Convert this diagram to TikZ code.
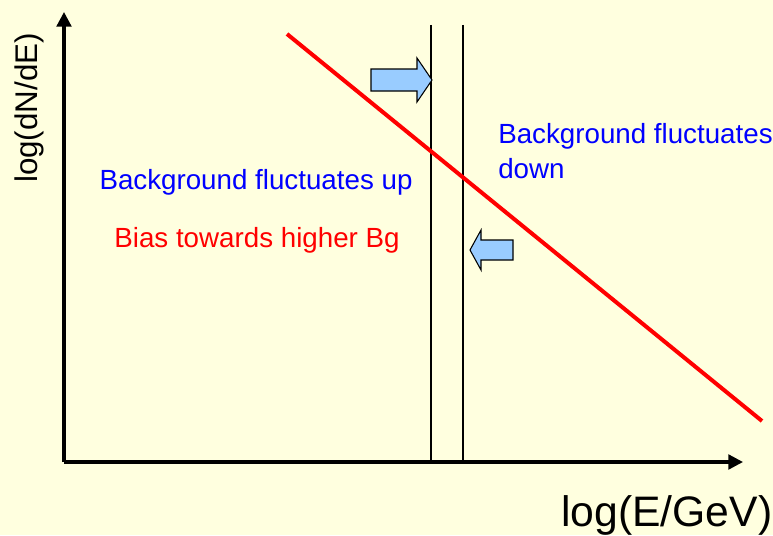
\documentclass[tikz,border=0pt]{standalone}
\usepackage{fontspec}
\setmainfont{Liberation Sans}
\usetikzlibrary{arrows.meta}
\definecolor{bgc}{HTML}{FFFFDF}
\definecolor{arrfill}{HTML}{99CCFF}
\definecolor{txtblue}{HTML}{0000FF}
\definecolor{txtred}{HTML}{FF0000}
\tikzset{
  axis/.style={line width=2.4pt,-{Triangle[length=11pt,width=11pt]}},
  vline/.style={line width=1pt},
  blockarrow/.style={draw=black,fill=arrfill,line width=0.8pt,line join=miter},
  lbl/.style={font=\fontsize{20.8}{24}\selectfont,inner sep=0pt}
}
\begin{document}
\begin{tikzpicture}[x=0.75pt,y=-0.75pt]
\fill[bgc] (0,0) rectangle (773,535);
\useasboundingbox (0,0) rectangle (773,535);
\coordinate (O) at (64,462);
\coordinate (Ytop) at (64,12);
\coordinate (Xend) at (743,462);
\draw[axis] (O) -- (Ytop);
\draw[axis] (O) -- (Xend);
\coordinate (v1t) at (431,25); \coordinate (v1b) at (431,462);
\coordinate (v2t) at (463,25); \coordinate (v2b) at (463,462);
\draw[vline] (v1t) -- (v1b);
\draw[vline] (v2t) -- (v2b);
\coordinate (r1) at (287,34); \coordinate (r2) at (762,421);
\draw[txtred,line width=3pt] (r1) -- (r2);
\draw[blockarrow] (371,69) -- (417,69) -- (417,58) -- (432,80) -- (417,102) -- (417,91) -- (371,91) -- cycle;
\draw[blockarrow] (513,240) -- (481,240) -- (481,230) -- (470,250) -- (481,270) -- (481,260) -- (513,260) -- cycle;
\node[lbl,rotate=90,font=\fontsize{23.5}{26}\selectfont] (ylab) at (29,108) {log(dN/dE)};
\node[lbl,font=\fontsize{32}{36}\selectfont,anchor=base west] (xlab) at (561,526) {log(E/GeV)};
\node[lbl,text=txtblue] (up) at (256,182) {Background fluctuates up};
\node[lbl,text=txtred] (bias) at (257,240) {Bias towards higher Bg};
\node[lbl,text=txtblue,align=left,anchor=north west,font=\fontsize{20.8}{26}\selectfont] (down) at (498,123) {Background fluctuates\\down};
\end{tikzpicture}
\end{document}
